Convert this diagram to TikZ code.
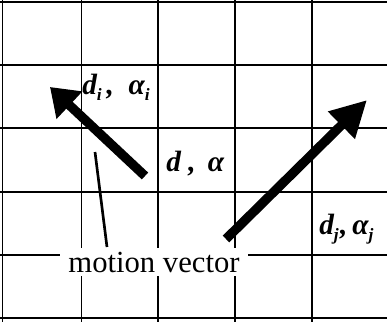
\documentclass[tikz,border=0pt]{standalone}
\usepackage{fontspec}
\setmainfont{Liberation Serif}
\usetikzlibrary{arrows.meta}
\newcommand{\vlab}[1]{{\fontsize{22}{25}\selectfont\bfseries\itshape #1}}
\newcommand{\vsub}[1]{\raisebox{-0.45em}{\fontsize{13}{15}\selectfont\bfseries\itshape #1}}
\begin{document}
\begin{tikzpicture}[x=0.75pt,y=-0.75pt,
  gridline/.style={line width=1.2pt,black},
  vec/.style={line width=7pt,black},
  lbl/.style={inner sep=0pt,anchor=base west},
  note/.style={fill=white,inner xsep=6pt,inner ysep=3pt,font=\fontsize{23}{26}\selectfont}]
\useasboundingbox (0,0) rectangle (387,322);
% grid
\foreach \y in {1.7,65,128,192,255,318} \draw[gridline] (0,\y) -- (387,\y);
\foreach \x in {2.7,81.5,158,235,312} \draw[gridline] (\x,0) -- (\x,322);
% motion vector label and pointer
\node[note] (mv) at (154,262) {motion vector};
\coordinate (p1) at (107,247);
\coordinate (p2) at (95,152);
\draw[line width=2pt] (p1) -- (p2);
% arrows
\coordinate (a0) at (145,176);
\coordinate (a1) at (50,87);
\draw[vec,-{Triangle[length=20pt,width=27pt]}] (a0) -- (a1);
\coordinate (b0) at (226,239);
\coordinate (b1) at (367,100);
\draw[vec,-{Triangle[length=27pt,width=27pt]}] (b0) -- (b1);
% labels
\node[lbl] (li) at (82,94) {\vlab{d}\vsub{i}\vlab{\,,\ \ }\vlab{α}\vsub{i}};
\node[lbl] (l0) at (166,171) {\vlab{d ,\ \,α}};
\node[lbl] (lj) at (319,234) {\vlab{d}\vsub{j}\vlab{\kern1pt,\,}\vlab{α}\vsub{j}};
\end{tikzpicture}
\end{document}
